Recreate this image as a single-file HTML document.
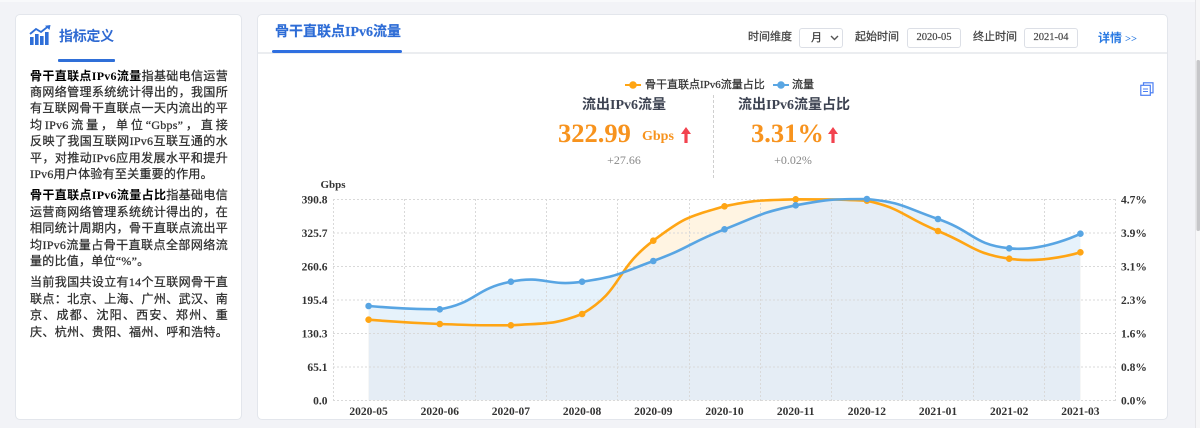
<!DOCTYPE html>
<html>
<head>
<meta charset="utf-8">
<style>
  html,body{margin:0;padding:0;}
  body{width:1200px;height:428px;overflow:hidden;background:#f2f3f7;position:relative;
       font-family:"Liberation Serif","Noto Sans CJK SC",serif;color:#333;}
  .abs{position:absolute;white-space:nowrap;}
  .card{position:absolute;background:#fff;border:1px solid #e3e6ec;border-radius:5px;box-sizing:border-box;}
  .txt{position:absolute;left:30px;top:67.5px;width:198px;font-size:12px;letter-spacing:0.25px;line-height:16.4px;color:#2e2e2e;-webkit-text-stroke:0.25px #2e2e2e;}
  .txt p{margin:0 0 5px 0;}
  .txt span.l{display:block;text-align:justify;text-align-last:justify;white-space:nowrap;}
  .txt span.e{display:block;text-align:left;white-space:nowrap;}
  .txt b{color:#000;-webkit-text-stroke:0;}
  .ctl{position:absolute;font-size:11px;color:#444;height:20px;line-height:20px;top:27px;-webkit-text-stroke:0.25px #444;}
  .box{position:absolute;top:28px;height:20px;border:1px solid #dcdfe6;border-radius:3px;box-sizing:border-box;background:#fff;
       font-size:10.5px;color:#444;text-align:center;line-height:18px;-webkit-text-stroke:0.2px #444;}
  .leg{-webkit-text-stroke:0.25px #333;}
</style>
</head>
<body>
<div class="abs" style="left:0;top:0;width:1195px;height:2px;background:#f8f9fb;"></div>

<!-- LEFT CARD -->
<div class="card" style="left:15px;top:14px;width:227px;height:406px;"></div>
<svg class="abs" style="left:29px;top:25px;" width="23" height="21" viewBox="0 0 23 21">
  <rect x="1" y="12" width="3.6" height="8" fill="#2f6fd8"/>
  <rect x="6" y="9" width="3.6" height="11" fill="#2f6fd8"/>
  <rect x="11" y="11" width="3.6" height="9" fill="#2f6fd8"/>
  <rect x="16" y="7" width="3.6" height="13" fill="#2f6fd8"/>
  <polyline points="1,9 7,4 12,7 19,1.5" fill="none" stroke="#2f6fd8" stroke-width="1.8"/>
  <polygon points="21.5,0 16,0.8 20.5,5" fill="#2f6fd8"/>
</svg>
<div class="abs" style="left:59px;top:28px;height:20px;line-height:20px;font-size:14px;font-weight:bold;color:#2f6ad2;letter-spacing:-0.3px;">指标定义</div>
<div class="abs" style="left:58px;top:59px;width:57px;height:2.5px;background:#2f6fd8;border-radius:1px;"></div>

<div class="txt">
  <p>
    <span class="l"><b>骨干直联点IPv6流量</b>指基础电信运营</span>
    <span class="l">商网络管理系统统计得出的，我国所</span>
    <span class="l">有互联网骨干直联点一天内流出的平</span>
    <span class="l">均IPv6流量，单位“Gbps”，直接</span>
    <span class="l">反映了我国互联网IPv6互联互通的水</span>
    <span class="l">平，对推动IPv6应用发展水平和提升</span>
    <span class="e">IPv6用户体验有至关重要的作用。</span>
  </p>
  <p>
    <span class="l"><b>骨干直联点IPv6流量占比</b>指基础电信</span>
    <span class="l">运营商网络管理系统统计得出的，在</span>
    <span class="l">相同统计周期内，骨干直联点流出平</span>
    <span class="l">均IPv6流量占骨干直联点全部网络流</span>
    <span class="e">量的比值，单位“%”。</span>
  </p>
  <p>
    <span class="l">当前我国共设立有14个互联网骨干直</span>
    <span class="l">联点：北京、上海、广州、武汉、南</span>
    <span class="l">京、成都、沈阳、西安、郑州、重</span>
    <span class="l">庆、杭州、贵阳、福州、呼和浩特。</span>
  </p>
</div>

<!-- RIGHT CARD -->
<div class="card" style="left:257px;top:14px;width:911px;height:406px;"></div>
<div class="abs" style="left:275px;top:23px;height:20px;line-height:20px;font-size:14px;font-weight:bold;color:#2d6cd6;-webkit-text-stroke:0.15px #2d6cd6;">骨干直联点IPv6流量</div>
<div class="abs" style="left:258px;top:52px;width:909px;height:2px;background:#ebedf0;"></div>
<div class="abs" style="left:272px;top:50px;width:130px;height:3px;background:#2f6fe0;border-radius:1.5px;"></div>

<!-- controls -->
<div class="ctl" style="left:748px;">时间维度</div>
<div class="box" style="left:799px;width:44px;">
  <span style="position:absolute;left:11px;top:0;font-size:11px;color:#333;">月</span>
  <svg style="position:absolute;left:30px;top:6px;" width="9" height="6" viewBox="0 0 9 6"><polyline points="1,1 4.5,4.5 8,1" fill="none" stroke="#555" stroke-width="1.4"/></svg>
</div>
<div class="ctl" style="left:855px;">起始时间</div>
<div class="box" style="left:907px;width:54px;">2020-05</div>
<div class="ctl" style="left:973px;">终止时间</div>
<div class="box" style="left:1024px;width:54px;">2021-04</div>
<div class="abs" style="left:1098px;top:28px;height:20px;line-height:20px;font-size:12px;font-weight:bold;color:#2a7ae2;">详情 <span style="font-size:10.5px;">&gt;&gt;</span></div>

<!-- legend -->
<svg class="abs" style="left:620px;top:78px;" width="200" height="14">
  <line x1="5" y1="7" x2="21" y2="7" stroke="#ffa514" stroke-width="2"/>
  <circle cx="13" cy="7" r="3.8" fill="#ffa514"/>
  <line x1="153" y1="7" x2="169" y2="7" stroke="#5aa6e3" stroke-width="2"/>
  <circle cx="161" cy="7" r="3.8" fill="#5aa6e3"/>
</svg>
<div class="abs leg" style="left:645px;top:77px;height:16px;line-height:16px;font-size:11px;color:#333;">骨干直联点IPv6流量占比</div>
<div class="abs leg" style="left:792px;top:77px;height:16px;line-height:16px;font-size:11px;color:#333;">流量</div>

<!-- copy icon -->
<svg class="abs" style="left:1140px;top:82px;" width="14" height="14" viewBox="0 0 14 14">
  <rect x="3.5" y="0.8" width="9.5" height="10" fill="none" stroke="#4c7ff2" stroke-width="1.2"/>
  <rect x="0.8" y="3.3" width="9.5" height="10" fill="#fff" stroke="#4c7ff2" stroke-width="1.2"/>
  <line x1="3" y1="7" x2="8" y2="7" stroke="#4c7ff2" stroke-width="1"/>
  <line x1="3" y1="9.5" x2="8" y2="9.5" stroke="#4c7ff2" stroke-width="1"/>
</svg>

<!-- KPI left -->
<div class="abs" style="left:524px;width:200px;text-align:center;top:96px;height:20px;line-height:20px;font-size:14px;font-weight:bold;color:#3d4352;">流出IPv6流量</div>
<div class="abs" style="left:558px;top:120px;height:26px;line-height:26px;font-size:26.5px;font-weight:bold;color:#f7931e;">322.99</div>
<div class="abs" style="left:642px;top:130px;height:14px;line-height:14px;font-size:14px;font-weight:bold;color:#f7931e;">Gbps</div>
<svg class="abs" style="left:681px;top:127px;" width="10" height="17" viewBox="0 0 10 17">
  <polygon points="5,0 0,7 3.4,7 3.4,16 6.6,16 6.6,7 10,7" fill="#f2434f"/>
</svg>
<div class="abs" style="left:574px;width:100px;text-align:center;top:152px;height:16px;line-height:16px;font-size:12px;color:#888;">+27.66</div>

<!-- divider -->
<div class="abs" style="left:712.5px;top:95px;width:0;height:83px;border-left:1px dashed #cfcfcf;"></div>

<!-- KPI right -->
<div class="abs" style="left:694px;width:200px;text-align:center;top:96px;height:20px;line-height:20px;font-size:14px;font-weight:bold;color:#3d4352;">流出IPv6流量占比</div>
<div class="abs" style="left:751px;top:120px;height:26px;line-height:26px;font-size:26.5px;font-weight:bold;color:#f7931e;">3.31%</div>
<svg class="abs" style="left:828px;top:127px;" width="10" height="17" viewBox="0 0 10 17">
  <polygon points="5,0 0,7 3.4,7 3.4,16 6.6,16 6.6,7 10,7" fill="#f2434f"/>
</svg>
<div class="abs" style="left:743px;width:100px;text-align:center;top:152px;height:16px;line-height:16px;font-size:12px;color:#888;">+0.02%</div>

<!-- CHART -->
<svg class="abs" style="left:0;top:0;" width="1200" height="428" viewBox="0 0 1200 428">
  <defs>
    <clipPath id="blueClip">
      <path d="M368.6,306 C368.6,306 405.4,309.3 439.8,309.3 C476.6,303.0 474.1,288.8 510.9,281.7 C545.2,275.0 547.2,286.8 582.1,281.7 C618.4,276.4 618.6,273.8 653.3,261 C689.8,247.6 688.3,243.5 724.5,229.3 C759.4,215.6 759.2,213.1 795.7,205.3 C830.4,199 831.9,199 866.9,199 C903.1,202.5 903.1,206.9 938,219 C974.3,231.6 972.6,244.5 1009.2,248.3 C1043.8,251.9 1080.4,233.7 1080.4,233.7 L1080.4,400.3 L368.6,400.3 Z"/>
    </clipPath>
  </defs>
  <path fill="#e6f2fb" d="M368.6,306 C368.6,306 405.4,309.3 439.8,309.3 C476.6,303.0 474.1,288.8 510.9,281.7 C545.2,275.0 547.2,286.8 582.1,281.7 C618.4,276.4 618.6,273.8 653.3,261 C689.8,247.6 688.3,243.5 724.5,229.3 C759.4,215.6 759.2,213.1 795.7,205.3 C830.4,199 831.9,199 866.9,199 C903.1,202.5 903.1,206.9 938,219 C974.3,231.6 972.6,244.5 1009.2,248.3 C1043.8,251.9 1080.4,233.7 1080.4,233.7 L1080.4,400.3 L368.6,400.3 Z"/>
  <path fill="#fff4e2" d="M368.6,319.7 C368.6,319.7 404.2,322.6 439.8,324 C475.4,325.3 475.5,325.3 510.9,325.3 C546.7,322.8 552.7,325.3 582.1,314 C623.8,289.2 613.2,271.1 653.3,240.7 C684.4,217.2 687.1,217.2 724.5,206.3 C758.3,199.3 760.0,200.7 795.7,199.3 C831.2,199.3 832.8,199.3 866.9,200.7 C904.0,209.0 902.2,216.4 938,231 C973.4,245.4 972.4,253.2 1009.2,258.7 C1043.6,263.9 1080.4,252.3 1080.4,252.3 L1080.4,400.3 L368.6,400.3 Z"/>
  <path fill="#e5edf5" clip-path="url(#blueClip)" d="M368.6,319.7 C368.6,319.7 404.2,322.6 439.8,324 C475.4,325.3 475.5,325.3 510.9,325.3 C546.7,322.8 552.7,325.3 582.1,314 C623.8,289.2 613.2,271.1 653.3,240.7 C684.4,217.2 687.1,217.2 724.5,206.3 C758.3,199.3 760.0,200.7 795.7,199.3 C831.2,199.3 832.8,199.3 866.9,200.7 C904.0,209.0 902.2,216.4 938,231 C973.4,245.4 972.4,253.2 1009.2,258.7 C1043.6,263.9 1080.4,252.3 1080.4,252.3 L1080.4,400.3 L368.6,400.3 Z"/>

  <g stroke="#d9d9d9" stroke-width="1" stroke-dasharray="2,2" fill="none">
    <line x1="333" y1="199.5" x2="1116" y2="199.5"/>
    <line x1="333" y1="233" x2="1116" y2="233"/>
    <line x1="333" y1="266.5" x2="1116" y2="266.5"/>
    <line x1="333" y1="300" x2="1116" y2="300"/>
    <line x1="333" y1="333.5" x2="1116" y2="333.5"/>
    <line x1="333" y1="367" x2="1116" y2="367"/>
    <line x1="333" y1="400.5" x2="1116" y2="400.5"/>
    <line x1="333.5" y1="199" x2="333.5" y2="401"/>
    <line x1="404.5" y1="199" x2="404.5" y2="401"/>
    <line x1="475.5" y1="199" x2="475.5" y2="401"/>
    <line x1="546.5" y1="199" x2="546.5" y2="401"/>
    <line x1="617.5" y1="199" x2="617.5" y2="401"/>
    <line x1="689.5" y1="199" x2="689.5" y2="401"/>
    <line x1="760.5" y1="199" x2="760.5" y2="401"/>
    <line x1="831.5" y1="199" x2="831.5" y2="401"/>
    <line x1="902.5" y1="199" x2="902.5" y2="401"/>
    <line x1="973.5" y1="199" x2="973.5" y2="401"/>
    <line x1="1044.5" y1="199" x2="1044.5" y2="401"/>
    <line x1="1115.5" y1="199" x2="1115.5" y2="401"/>
  </g>

  <path fill="none" stroke="#ffa514" stroke-width="2.6" stroke-linejoin="round" d="M368.6,319.7 C368.6,319.7 404.2,322.6 439.8,324 C475.4,325.3 475.5,325.3 510.9,325.3 C546.7,322.8 552.7,325.3 582.1,314 C623.8,289.2 613.2,271.1 653.3,240.7 C684.4,217.2 687.1,217.2 724.5,206.3 C758.3,199.3 760.0,200.7 795.7,199.3 C831.2,199.3 832.8,199.3 866.9,200.7 C904.0,209.0 902.2,216.4 938,231 C973.4,245.4 972.4,253.2 1009.2,258.7 C1043.6,263.9 1080.4,252.3 1080.4,252.3"/>
  <path fill="none" stroke="#58a5e3" stroke-width="2.6" stroke-linejoin="round" d="M368.6,306 C368.6,306 405.4,309.3 439.8,309.3 C476.6,303.0 474.1,288.8 510.9,281.7 C545.2,275.0 547.2,286.8 582.1,281.7 C618.4,276.4 618.6,273.8 653.3,261 C689.8,247.6 688.3,243.5 724.5,229.3 C759.4,215.6 759.2,213.1 795.7,205.3 C830.4,199 831.9,199 866.9,199 C903.1,202.5 903.1,206.9 938,219 C974.3,231.6 972.6,244.5 1009.2,248.3 C1043.8,251.9 1080.4,233.7 1080.4,233.7"/>

  <g fill="#ffa514">
    <circle cx="368.6" cy="319.7" r="3.3"/><circle cx="439.8" cy="324" r="3.3"/><circle cx="510.9" cy="325.3" r="3.3"/>
    <circle cx="582.1" cy="314" r="3.3"/><circle cx="653.3" cy="240.7" r="3.3"/><circle cx="724.5" cy="206.3" r="3.3"/>
    <circle cx="795.7" cy="199.3" r="3.3"/><circle cx="866.9" cy="200.7" r="3.3"/><circle cx="938" cy="231" r="3.3"/>
    <circle cx="1009.2" cy="258.7" r="3.3"/><circle cx="1080.4" cy="252.3" r="3.3"/>
  </g>
  <g fill="#58a5e3">
    <circle cx="368.6" cy="306" r="3.3"/><circle cx="439.8" cy="309.3" r="3.3"/><circle cx="510.9" cy="281.7" r="3.3"/>
    <circle cx="582.1" cy="281.7" r="3.3"/><circle cx="653.3" cy="261" r="3.3"/><circle cx="724.5" cy="229.3" r="3.3"/>
    <circle cx="795.7" cy="205.3" r="3.3"/><circle cx="866.9" cy="199" r="3.3"/><circle cx="938" cy="219" r="3.3"/>
    <circle cx="1009.2" cy="248.3" r="3.3"/><circle cx="1080.4" cy="233.7" r="3.3"/>
  </g>

  <g font-family="Liberation Serif, serif" font-weight="bold" font-size="11.5" fill="#333">
    <text x="333" y="188" text-anchor="middle" font-size="11">Gbps</text>
    <g text-anchor="end">
      <text x="327.5" y="203.5">390.8</text>
      <text x="327.5" y="237">325.7</text>
      <text x="327.5" y="270.5">260.6</text>
      <text x="327.5" y="304">195.4</text>
      <text x="327.5" y="337.5">130.3</text>
      <text x="327.5" y="371">65.1</text>
      <text x="327.5" y="404.5">0.0</text>
    </g>
    <g text-anchor="start">
      <text x="1121" y="203.5">4.7%</text>
      <text x="1121" y="237">3.9%</text>
      <text x="1121" y="270.5">3.1%</text>
      <text x="1121" y="304">2.3%</text>
      <text x="1121" y="337.5">1.6%</text>
      <text x="1121" y="371">0.8%</text>
      <text x="1121" y="404.5">0.0%</text>
    </g>
    <g text-anchor="middle">
      <text x="368.6" y="415">2020-05</text>
      <text x="439.8" y="415">2020-06</text>
      <text x="510.9" y="415">2020-07</text>
      <text x="582.1" y="415">2020-08</text>
      <text x="653.3" y="415">2020-09</text>
      <text x="724.5" y="415">2020-10</text>
      <text x="795.7" y="415">2020-11</text>
      <text x="866.9" y="415">2020-12</text>
      <text x="938" y="415">2021-01</text>
      <text x="1009.2" y="415">2021-02</text>
      <text x="1080.4" y="415">2021-03</text>
    </g>
  </g>

  <rect x="1195" y="0" width="5" height="428" fill="#f7f7f8"/>
  <line x1="1195.5" y1="0" x2="1195.5" y2="428" stroke="#e6e6e9" stroke-width="1"/>
  <rect x="1196.5" y="60" width="3.5" height="171" rx="1.5" fill="#c6c6c9"/>
</svg>
</body>
</html>
